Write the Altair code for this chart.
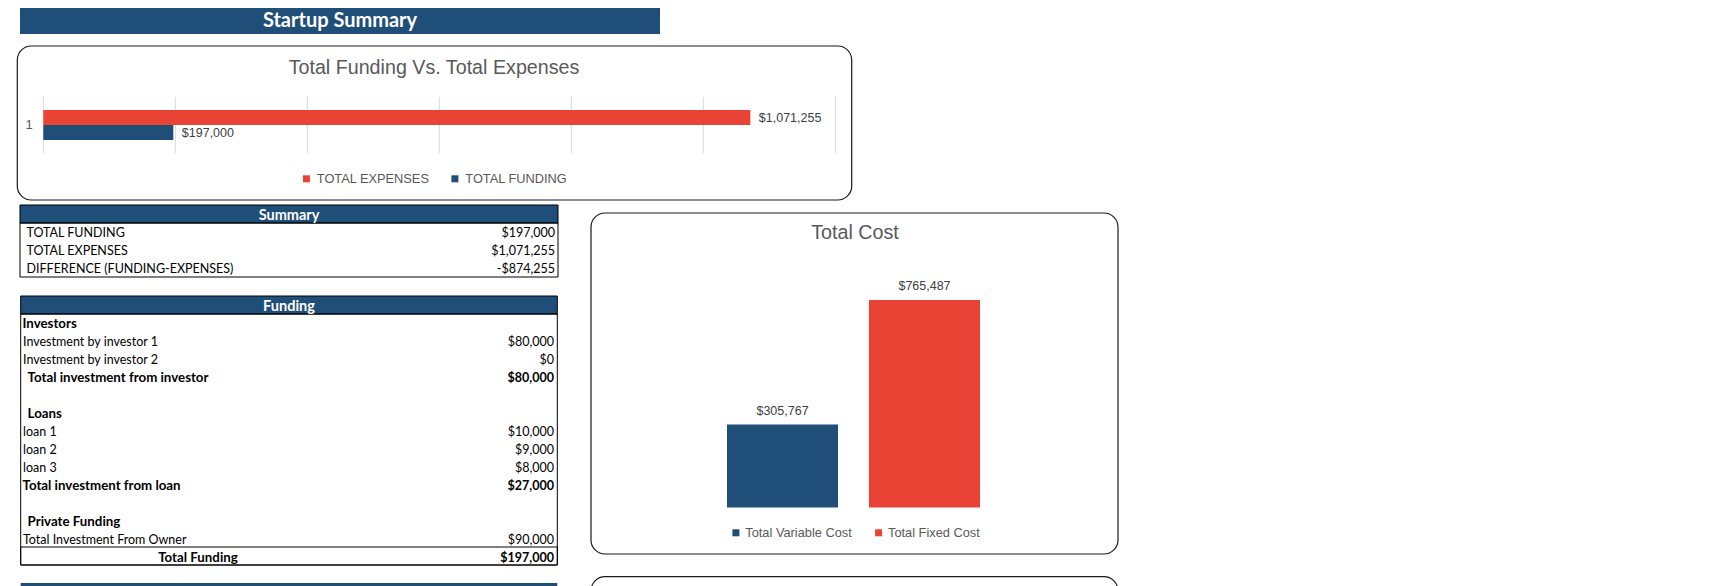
import altair as alt
import pandas as pd

NAVY = "#1F4E79"
RED = "#E94335"
GRID = "#D9D9D9"
TITLE_GRAY = "#595959"
LABEL_GRAY = "#404040"
CHART_FONT = "Liberation Sans"
TABLE_FONT = "Lato"

# ---------------- data ----------------
banner_title = ["Startup Summary"]
chart1_title = ["Total Funding Vs. Total Expenses"]
chart1_category = ["1"]
series = ["TOTAL EXPENSES", "TOTAL FUNDING"]
series_values = [1071255, 197000]
grid_ticks = [0, 200000, 400000, 600000, 800000, 1000000, 1200000]

cost_title = ["Total Cost"]
cost_categories = ["Total Variable Cost", "Total Fixed Cost"]
cost_values = [305767, 765487]

summary_header = ["Summary"]
summary_labels = ["TOTAL FUNDING", "TOTAL EXPENSES", "DIFFERENCE (FUNDING-EXPENSES)"]
summary_values = [197000, 1071255, -874255]

funding_header = ["Funding"]
funding_labels = ["Investors", "Investment by investor 1", "Investment by investor 2",
                  "Total investment from investor", "", "Loans", "loan 1", "loan 2", "loan 3",
                  "Total investment from loan", "", "Private Funding",
                  "Total Investment From Owner", "Total Funding"]
funding_values = [None, 80000, 0, 80000, None, None, 10000, 9000, 8000, 27000,
                  None, None, 90000, 197000]

bold_rows = ["Investors", "Total investment from investor", "Loans",
             "Total investment from loan", "Private Funding", "Total Funding"]
indented_rows = ["Total investment from investor", "Loans", "Private Funding"]
centered_rows = ["Total Funding"]


def money(v):
    return ("-$" if v < 0 else "$") + f"{abs(v):,.0f}"


# ---------------- frames ----------------
one = pd.DataFrame({"k": [0]})


def frame(x, x2, y, y2, **kw):
    return alt.Chart(one).mark_rect(**kw).encode(
        x=alt.value(x), x2=alt.value(x2), y=alt.value(y), y2=alt.value(y2))


def label(df, field, x, y, **kw):
    return alt.Chart(df).mark_text(**kw).encode(text=f"{field}:N", x=alt.value(x), y=alt.value(y))


layers = []

# Banner
layers.append(frame(12, 652, 0, 26, fill=NAVY))
layers.append(label(pd.DataFrame({"t": banner_title}), "t", 332, 12.5, font=TABLE_FONT,
                    fontWeight="bold", fontSize=20, color="white", align="center", baseline="middle"))

# ---------------- chart 1 : Total Funding vs Total Expenses ----------------
layers.append(frame(9.3, 843.7, 38, 192, fill="white", fillOpacity=0, stroke="#1a1a1a",
                    strokeWidth=1.2, cornerRadius=14))
layers.append(label(pd.DataFrame({"t": chart1_title}), "t", 426, 59.5, font=CHART_FONT,
                    fontSize=19.7, color=TITLE_GRAY, align="center", baseline="middle"))

x1 = alt.Scale(domain=[0, 1200000], range=[35.3, 827.3], nice=False, zero=True)
y1 = alt.Scale(type="band", domain=series, range=[102, 132], paddingInner=0, paddingOuter=0)

grid_df = pd.DataFrame({"tick": grid_ticks})
layers.append(alt.Chart(grid_df).mark_rule(color=GRID, strokeWidth=1).encode(
    x=alt.X("tick:Q", scale=x1, axis=None), y=alt.value(88.7), y2=alt.value(145)))

s_df = pd.DataFrame({"series": series, "value": series_values,
                     "lbl": [money(v) for v in series_values]})
layers.append(alt.Chart(s_df).mark_bar().encode(
    x=alt.X("value:Q", scale=x1, axis=None),
    y=alt.Y("series:N", scale=y1, axis=None),
    color=alt.Color("series:N", scale=alt.Scale(domain=series, range=[RED, NAVY]), title=None,
                    legend=alt.Legend(orient="none", legendX=292, legendY=164,
                                      direction="horizontal", symbolType="square",
                                      symbolSize=49, symbolStrokeWidth=0,
                                      labelFont=CHART_FONT, labelFontSize=12.8,
                                      labelColor=TITLE_GRAY, labelOffset=4,
                                      columnPadding=18.5))))
layers.append(alt.Chart(s_df).mark_text(align="left", baseline="middle", dx=8.5,
                                        font=CHART_FONT, fontSize=12.5, color=LABEL_GRAY).encode(
    x=alt.X("value:Q", scale=x1, axis=None),
    y=alt.Y("series:N", scale=y1, axis=None),
    text="lbl:N"))
layers.append(label(pd.DataFrame({"t": chart1_category}), "t", 21, 117, font=CHART_FONT,
                    fontSize=13, color=TITLE_GRAY, align="center", baseline="middle"))

# ---------------- Summary table ----------------
layers.append(frame(12, 550, 197, 215, fill=NAVY, stroke="#000", strokeWidth=1))
layers.append(frame(12, 550, 215, 269, fill="white", fillOpacity=0, stroke="#000", strokeWidth=1))
layers.append(label(pd.DataFrame({"t": summary_header}), "t", 281, 207.5, font=TABLE_FONT,
                    fontWeight="bold", fontSize=14.5, color="white", align="center",
                    baseline="middle"))
sum_df = pd.DataFrame({"row": list(range(len(summary_labels))), "label": summary_labels,
                       "val": [money(v) for v in summary_values]})
ysum = alt.Scale(domain=[0, 2], range=[225, 261], nice=False, zero=False)
layers.append(alt.Chart(sum_df).mark_text(align="left", baseline="middle", font=TABLE_FONT,
                                          fontSize=12.5, color="#000").encode(
    x=alt.value(18.5), y=alt.Y("row:Q", scale=ysum, axis=None), text="label:N"))
layers.append(alt.Chart(sum_df).mark_text(align="right", baseline="middle", font=TABLE_FONT,
                                          fontSize=12.5, color="#000").encode(
    x=alt.value(547), y=alt.Y("row:Q", scale=ysum, axis=None), text="val:N"))

# ---------------- Funding table ----------------
layers.append(frame(12.7, 549.3, 288, 306, fill=NAVY, stroke="#000", strokeWidth=1))
layers.append(frame(12.7, 549.3, 306, 557, fill="white", fillOpacity=0, stroke="#000",
                    strokeWidth=1))
layers.append(frame(12.7, 549.3, 539, 557, fill="white", fillOpacity=0, stroke="#000",
                    strokeWidth=1))
layers.append(label(pd.DataFrame({"t": funding_header}), "t", 281, 298.5, font=TABLE_FONT,
                    fontWeight="bold", fontSize=14.5, color="white", align="center",
                    baseline="middle"))

kinds = []
for lab in funding_labels:
    if lab in centered_rows:
        kinds.append("center")
    elif lab in indented_rows:
        kinds.append("indent")
    elif lab in bold_rows:
        kinds.append("bold")
    else:
        kinds.append("plain")
f_df = pd.DataFrame({"row": list(range(len(funding_labels))), "label": funding_labels,
                     "val": [money(v) if v is not None else "" for v in funding_values],
                     "kind": kinds,
                     "isbold": ["y" if lab in bold_rows else "n" for lab in funding_labels]})
f_df = f_df[f_df["label"] != ""]
yf = alt.Scale(domain=[0, 13], range=[316, 550], nice=False, zero=False)

for kind, xpos, weight, al, fs in [("plain", 15, "normal", "left", 12.5),
                                   ("bold", 14.5, "bold", "left", 13.3),
                                   ("indent", 19.6, "bold", "left", 13.3),
                                   ("center", 190, "bold", "center", 13.3)]:
    layers.append(alt.Chart(f_df).transform_filter(alt.datum.kind == kind).mark_text(
        align=al, baseline="middle", font=TABLE_FONT, fontSize=fs, fontWeight=weight,
        color="#000").encode(x=alt.value(xpos), y=alt.Y("row:Q", scale=yf, axis=None),
                             text="label:N"))
for b, weight in [("n", "normal"), ("y", "bold")]:
    layers.append(alt.Chart(f_df).transform_filter(
        (alt.datum.isbold == b) & (alt.datum.val != "")).mark_text(
        align="right", baseline="middle", font=TABLE_FONT, fontSize=12.5, fontWeight=weight,
        color="#000").encode(x=alt.value(546), y=alt.Y("row:Q", scale=yf, axis=None),
                             text="val:N"))

# next table header (cut off at bottom)
layers.append(frame(12.7, 549.3, 575, 600, fill=NAVY))

# ---------------- chart 2 : Total Cost ----------------
layers.append(frame(583, 1110, 205, 546, fill="white", fillOpacity=0, stroke="#1a1a1a",
                    strokeWidth=1.2, cornerRadius=14))
layers.append(frame(583, 1110, 568.7, 640, fill="white", fillOpacity=0, stroke="#1a1a1a",
                    strokeWidth=1.2, cornerRadius=14))
layers.append(label(pd.DataFrame({"t": cost_title}), "t", 847, 225, font=CHART_FONT,
                    fontSize=19.7, color=TITLE_GRAY, align="center", baseline="middle"))

x2s = alt.Scale(type="band", domain=cost_categories, range=[719, 972], paddingInner=0.218,
                paddingOuter=0)
y2s = alt.Scale(domain=[0, 900000], range=[499.5, 255.5], nice=False, zero=True)
c_df = pd.DataFrame({"cat": cost_categories, "value": cost_values,
                     "lbl": [money(v) for v in cost_values]})
layers.append(alt.Chart(c_df).mark_bar().encode(
    x=alt.X("cat:N", scale=x2s, axis=None),
    y=alt.Y("value:Q", scale=y2s, axis=None),
    color=alt.Color("cat:N", scale=alt.Scale(domain=cost_categories, range=[NAVY, RED]),
                    title=None,
                    legend=alt.Legend(orient="none", legendX=721.5, legendY=518,
                                      direction="horizontal", symbolType="square",
                                      symbolSize=49, symbolStrokeWidth=0,
                                      labelFont=CHART_FONT, labelFontSize=12.8,
                                      labelColor=TITLE_GRAY, labelOffset=3,
                                      columnPadding=19.7))))
layers.append(alt.Chart(c_df).mark_text(align="center", baseline="middle", dy=-14,
                                        font=CHART_FONT, fontSize=12.5, color=LABEL_GRAY).encode(
    x=alt.X("cat:N", scale=x2s, axis=None, bandPosition=0.5),
    y=alt.Y("value:Q", scale=y2s, axis=None),
    text="lbl:N"))

chart = alt.layer(*layers).resolve_scale(
    x="independent", y="independent", color="independent"
).properties(
    width=1714, height=578, padding=0, background="white",
    autosize=alt.AutoSizeParams(type="none")
).configure_view(stroke="transparent", strokeWidth=0)

chart.save("out.html", embed_options={"renderer": "svg", "actions": False})
